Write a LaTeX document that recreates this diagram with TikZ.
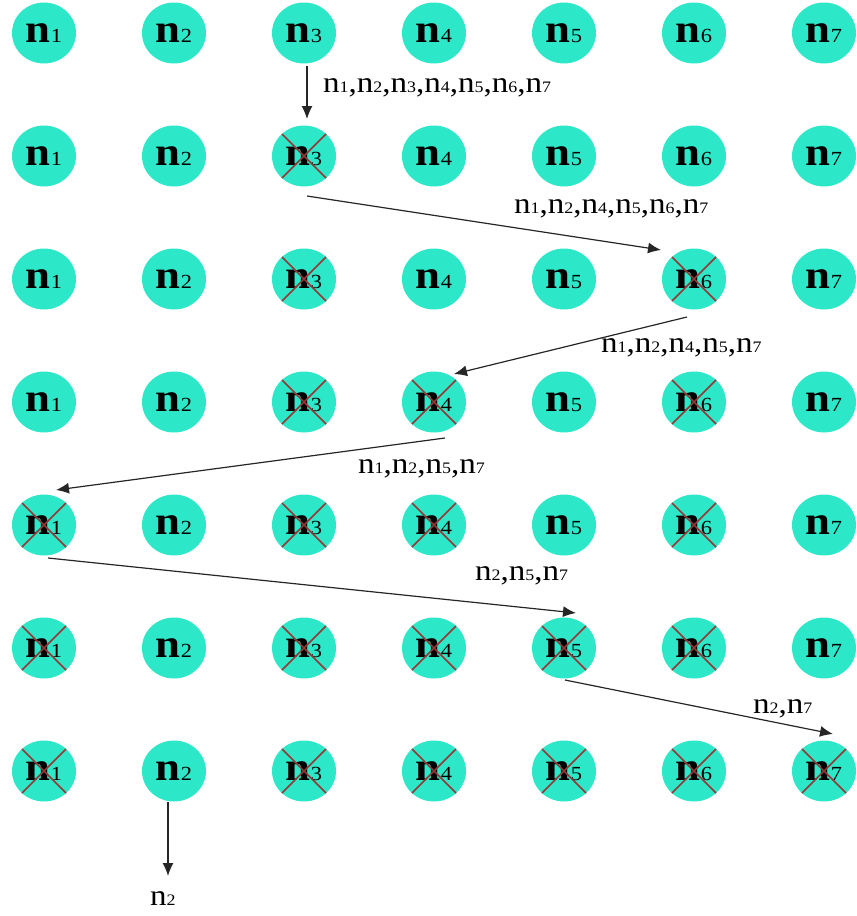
\documentclass[tikz,border=0pt]{standalone}
\usepackage{fontspec}
\setmainfont{Liberation Serif}
\newfontfamily\stretchfont[FakeStretch=1.12]{Liberation Serif}
\usetikzlibrary{arrows.meta,shapes.geometric}
\definecolor{turq}{RGB}{45,232,200}
\definecolor{xcol}{RGB}{150,55,55}
\newcommand{\nodetxt}[1]{{\fontsize{40}{40}\selectfont\bfseries n}{\fontsize{20}{20}\selectfont #1}}
\newcommand{\dg}[1]{{\fontsize{16}{16}\selectfont #1}}
\begin{document}
\begin{tikzpicture}[x=1pt,y=-1pt,
  nd/.style={ellipse, fill=turq, minimum width=64pt, minimum height=61pt, inner sep=0pt, font=\stretchfont},
  xline/.style={draw=xcol, line width=1.5pt},
  arr/.style={draw=black!85, line width=1.2pt, -{Latex[length=13pt,width=11pt]}},
  lab/.style={anchor=base west, inner sep=0pt, font=\stretchfont\fontsize{29.5}{29.5}\selectfont}]
\useasboundingbox (0,0) rectangle (857,916);
% nodes
\foreach \r in {1,...,7}{
  \foreach \c in {1,...,7}{
    \node[nd] (c\r\c) at ({44+130*(\c-1)},{33+123*(\r-1)}) {\nodetxt{\c}};
  }
}
% crosses
\foreach \k in {23,33,36,43,44,46,51,53,54,56,61,63,64,65,66,71,73,74,75,76,77}{
  \draw[xline] ([shift={(-22,-22)}]c\k.center) -- ([shift={(22,22)}]c\k.center);
  \draw[xline] ([shift={(22,-22)}]c\k.center) -- ([shift={(-22,22)}]c\k.center);
}
% labels
\node[lab] (l1) at (323,92) {n\dg{1},n\dg{2},n\dg{3},n\dg{4},n\dg{5},n\dg{6},n\dg{7}};
\node[lab] (l2) at (514,213) {n\dg{1},n\dg{2},n\dg{4},n\dg{5},n\dg{6},n\dg{7}};
\node[lab] (l3) at (601,352) {n\dg{1},n\dg{2},n\dg{4},n\dg{5},n\dg{7}};
\node[lab] (l4) at (358,473) {n\dg{1},n\dg{2},n\dg{5},n\dg{7}};
\node[lab] (l5) at (475,580) {n\dg{2},n\dg{5},n\dg{7}};
\node[lab] (l6) at (753,713) {n\dg{2},n\dg{7}};
\node[lab] (l7) at (150,905) {n\dg{2}};
\coordinate (e7) at (168,876);
% arrows
\draw[arr] ([shift={(3,33)}]c13.center) -- ([shift={(3,-37)}]c23.center);
\draw[arr] ([shift={(3,40)}]c23.center) -- ([shift={(-33,-29)}]c36.center);
\draw[arr] ([shift={(-7,38)}]c36.center) -- ([shift={(20,-28)}]c44.center);
\draw[arr] ([shift={(11,36)}]c44.center) -- ([shift={(12,-35)}]c51.center);
\draw[arr] ([shift={(4,33)}]c51.center) -- ([shift={(12,-35)}]c65.center);
\draw[arr] ([shift={(1,32)}]c65.center) -- ([shift={(9,-37)}]c77.center);
\draw[arr] ([shift={(-6,31)}]c72.center) -- (e7);
\end{tikzpicture}
\end{document}
